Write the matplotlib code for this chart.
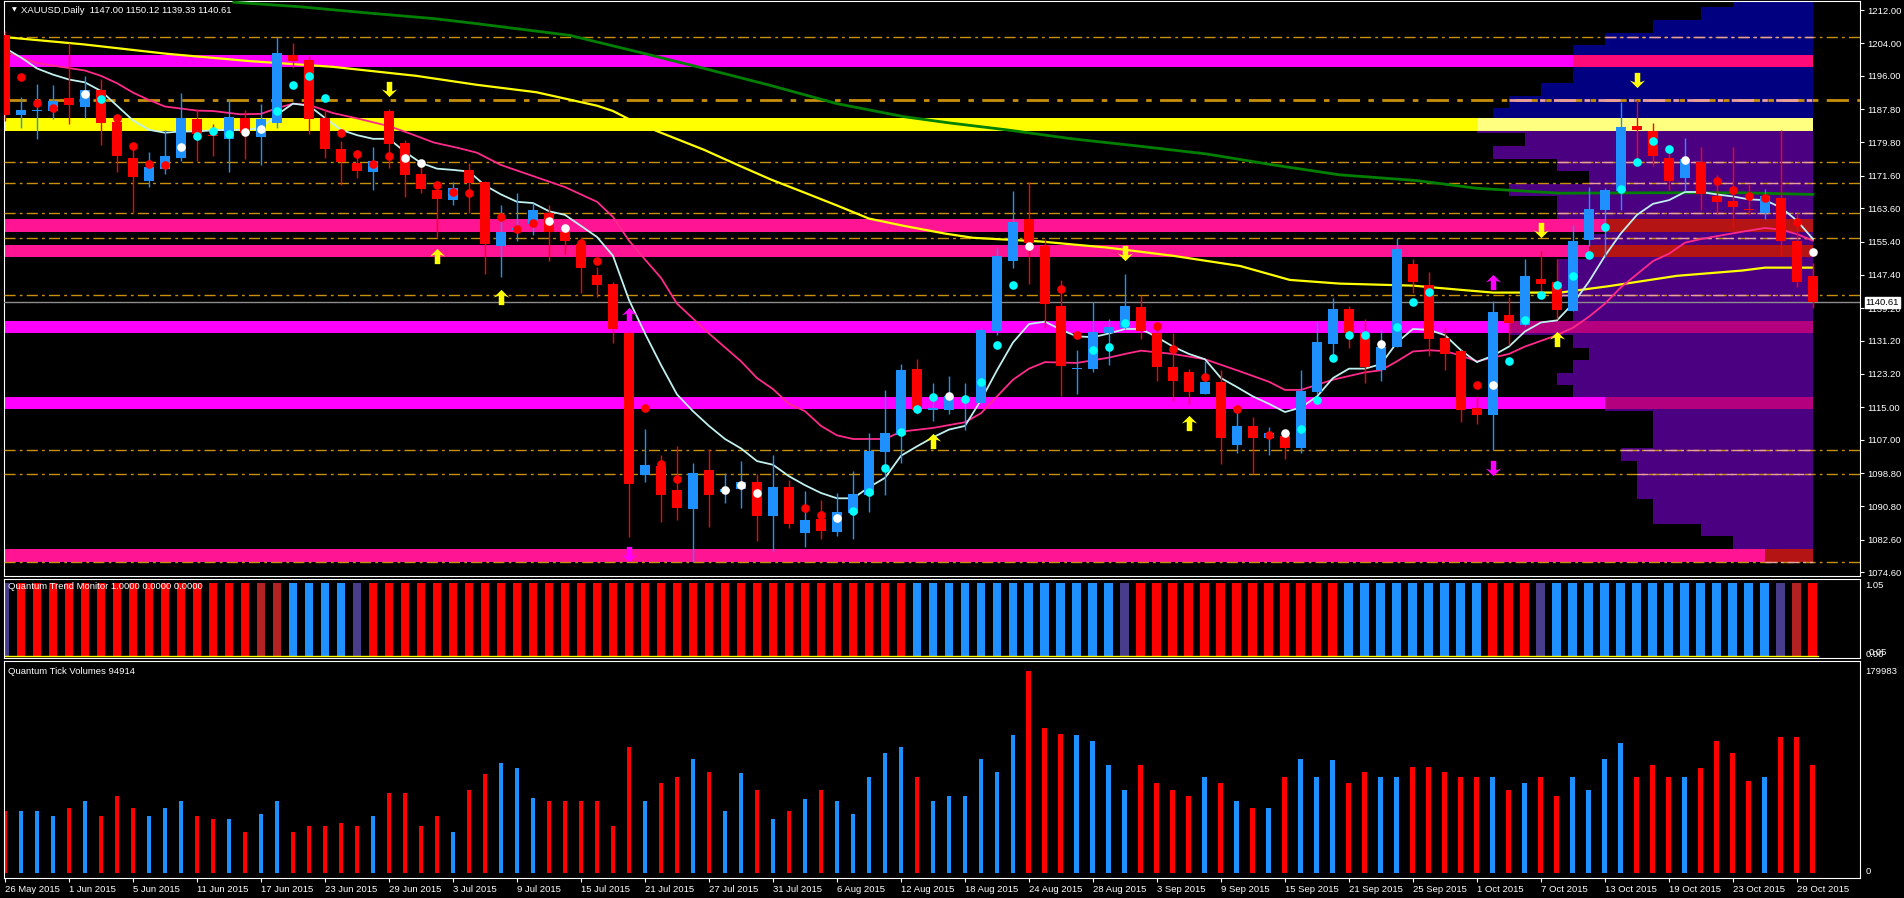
import numpy as np
import matplotlib.pyplot as plt
from matplotlib.path import Path
from matplotlib.transforms import blended_transform_factory

plt.rcParams['font.family'] = ['Liberation Sans', 'DejaVu Sans']

# ---- candles (26 May 2015 .. 30 Oct 2015, daily) ----
opens = [1206.0, 1186.5, 1187.3, 1187.5, 1190.5, 1188.5, 1192.6, 1184.6, 1176.0, 1170.4,
         1173.1, 1176.0, 1185.4, 1181.5, 1180.6, 1185.6, 1181.0, 1184.5, 1201.0, 1199.9,
         1185.6, 1178.0, 1174.7, 1172.4, 1187.4, 1179.7, 1172.1, 1168.2, 1165.6, 1173.0,
         1170.0, 1154.3, 1158.4, 1159.7, 1162.5, 1157.7, 1154.8, 1147.3, 1145.2, 1133.2,
         1098.3, 1100.6, 1094.8, 1090.0, 1099.5, 1094.2, 1095.0, 1096.8, 1088.4, 1095.4,
         1084.1, 1087.7, 1084.4, 1089.1, 1093.6, 1104.0, 1108.1, 1124.4, 1114.3, 1114.3,
         1116.8, 1116.0, 1133.5, 1150.7, 1160.9, 1154.3, 1139.8, 1124.3, 1124.4, 1133.0,
         1134.4, 1139.5, 1133.2, 1124.7, 1123.5, 1118.3, 1121.2, 1105.8, 1110.4, 1107.4,
         1107.9, 1104.9, 1118.8, 1130.5, 1139.1, 1133.2, 1124.0, 1129.6, 1150.0, 1144.8,
         1131.8, 1128.7, 1114.9, 1113.1, 1137.4, 1135.1, 1146.4, 1145.5, 1138.5, 1155.8,
         1163.2, 1167.9, 1183.7, 1182.4, 1176.0, 1171.1, 1174.9, 1166.5, 1165.4, 1163.5,
         1162.5, 1166.1, 1155.7, 1147.00]
highs = [1207.0, 1190.8, 1193.9, 1193.7, 1204.1, 1196.0, 1195.2, 1186.5, 1179.7, 1177.4,
         1182.7, 1191.9, 1187.8, 1184.2, 1190.3, 1187.6, 1189.2, 1205.5, 1204.1, 1200.8,
         1187.8, 1180.1, 1177.9, 1178.5, 1187.8, 1180.3, 1174.7, 1170.2, 1170.0, 1174.7,
         1170.2, 1164.5, 1167.4, 1164.9, 1164.5, 1159.7, 1156.6, 1149.3, 1145.5, 1133.5,
         1109.6, 1103.3, 1105.4, 1101.3, 1104.7, 1098.8, 1101.8, 1098.6, 1103.3, 1097.2,
         1094.5, 1092.3, 1094.1, 1099.3, 1108.7, 1119.2, 1125.5, 1126.7, 1120.9, 1122.6,
         1120.9, 1134.3, 1153.8, 1167.9, 1170.0, 1156.1, 1146.1, 1128.9, 1140.7, 1136.5,
         1147.6, 1142.3, 1134.8, 1133.0, 1124.4, 1126.2, 1124.0, 1114.9, 1112.6, 1110.1,
         1109.5, 1124.0, 1135.9, 1141.6, 1139.8, 1136.6, 1133.9, 1156.4, 1151.1, 1148.0,
         1134.4, 1128.9, 1117.8, 1141.0, 1141.8, 1151.1, 1153.2, 1151.1, 1159.5, 1168.8,
         1168.5, 1189.6, 1190.1, 1184.4, 1178.3, 1180.8, 1178.5, 1171.8, 1178.7, 1169.5,
         1168.3, 1182.7, 1162.5, 1150.12]
lows = [1185.0, 1183.2, 1180.6, 1185.4, 1184.2, 1185.6, 1179.2, 1172.4, 1162.5, 1168.8,
        1172.1, 1175.1, 1175.1, 1176.5, 1172.4, 1175.6, 1174.2, 1183.3, 1198.0, 1181.9,
        1175.8, 1169.2, 1171.1, 1168.2, 1173.5, 1166.3, 1167.3, 1156.4, 1164.4, 1162.5,
        1147.5, 1146.8, 1155.7, 1157.0, 1150.7, 1152.5, 1142.8, 1141.9, 1130.7, 1083.2,
        1096.8, 1086.8, 1087.3, 1077.1, 1085.8, 1091.5, 1090.3, 1082.3, 1079.8, 1085.5,
        1080.8, 1082.7, 1083.5, 1082.7, 1089.3, 1093.6, 1101.3, 1113.3, 1111.5, 1113.3,
        1109.5, 1115.8, 1132.6, 1148.9, 1145.2, 1134.4, 1117.6, 1118.1, 1123.5, 1125.3,
        1134.1, 1131.7, 1121.5, 1116.4, 1115.8, 1118.3, 1101.0, 1103.8, 1098.6, 1103.3,
        1102.2, 1103.8, 1118.1, 1127.6, 1129.4, 1121.0, 1121.5, 1129.6, 1143.0, 1127.6,
        1124.1, 1111.3, 1110.8, 1104.5, 1130.3, 1134.8, 1143.0, 1136.6, 1138.5, 1154.3,
        1151.6, 1163.1, 1175.0, 1174.0, 1168.2, 1167.9, 1163.2, 1162.3, 1158.6, 1162.0,
        1160.9, 1151.9, 1144.3, 1139.33]
closes = [1186.5, 1187.6, 1187.5, 1189.8, 1188.9, 1192.5, 1184.5, 1176.5, 1171.2, 1173.8,
          1176.5, 1185.6, 1181.9, 1181.2, 1186.0, 1182.1, 1185.4, 1201.6, 1199.6, 1185.4,
          1178.1, 1175.0, 1172.7, 1175.1, 1179.4, 1171.8, 1168.3, 1165.9, 1168.5, 1169.9,
          1154.8, 1157.7, 1158.8, 1163.1, 1157.7, 1155.5, 1148.9, 1144.8, 1134.1, 1096.3,
          1100.9, 1093.6, 1090.3, 1098.8, 1093.6, 1095.0, 1096.8, 1088.4, 1095.4, 1086.4,
          1087.5, 1084.8, 1089.3, 1093.8, 1104.2, 1108.7, 1124.1, 1114.4, 1114.9, 1117.6,
          1117.0, 1133.9, 1151.9, 1160.2, 1155.2, 1140.3, 1125.0, 1124.5, 1133.3, 1134.6,
          1139.8, 1133.5, 1124.7, 1121.5, 1118.8, 1121.2, 1107.4, 1110.4, 1107.4, 1108.7,
          1104.9, 1119.0, 1131.0, 1139.1, 1133.0, 1124.9, 1129.8, 1153.7, 1145.7, 1131.7,
          1128.0, 1114.4, 1113.1, 1138.2, 1135.5, 1147.1, 1145.0, 1138.7, 1155.7, 1163.4,
          1168.2, 1183.6, 1182.8, 1176.5, 1170.4, 1175.6, 1167.0, 1165.2, 1164.0, 1163.1,
          1166.5, 1155.5, 1145.7, 1140.61]

# signal dots (nan = none): r red, c cyan, w white
dot_price = [np.nan, 1195.8, 1189.4, 1188.2, np.nan, 1191.6, 1190.4, 1185.7, 1178.8, 1174.4,
             1174.2, 1178.6, 1181.3, 1182.6, 1181.9, 1182.2, 1183.1, 1187.5, 1193.7, 1196.0,
             1190.5, 1182.1, 1176.9, 1174.4, 1176.4, 1175.9, 1174.7, 1169.4, 1167.6, 1167.3,
             np.nan, 1161.5, 1158.6, 1160.1, 1160.5, 1158.8, 1155.2, 1150.7, np.nan, np.nan,
             1114.9, 1101.0, 1097.5, 1094.0, np.nan, 1094.8, 1096.0, 1094.0, 1093.4, np.nan,
             1090.4, 1088.6, 1088.0, 1089.5, 1094.2, 1100.2, 1108.8, 1114.6, 1117.4, 1117.8,
             1116.9, 1121.1, 1130.3, 1144.8, 1154.3, 1153.7, 1143.9, 1132.7, 1128.9, 1129.8,
             1135.5, 1136.5, 1134.8, 1129.1, 1124.0, 1122.3, np.nan, 1114.6, np.nan, 1108.1,
             1108.6, 1109.7, 1116.7, 1126.9, 1132.7, 1132.7, 1130.5, 1134.6, 1140.7, 1143.2,
             1137.3, np.nan, 1120.5, 1120.3, 1126.2, 1136.2, 1142.5, 1144.8, 1147.1, 1152.2,
             1159.1, 1168.3, 1175.0, 1180.1, 1178.0, 1175.4, np.nan, 1170.4, 1168.1, 1166.5,
             1166.1, np.nan, 1160.2, 1152.9]
dot_kind = ('-rrr-wcrrrrwcccwwcccc' 'rrrrwwrrr' '-rrrwwrr--' 'rrr-rwww-' 'rrrwcccccc'
            'wccccwrrrccc' 'rrr-r-rr' 'rwcccccwc' 'cc-rrwcccccc' 'cccccw-rrrr-rw')

# moving averages
fast_ma = [1202.8, 1200.5, 1197.8, 1196.3, 1195.1, 1194.4, 1192.3, 1188.7, 1185.1, 1182.8,
           1182.1, 1182.4, 1182.4, 1182.7, 1182.8, 1182.8, 1183.3, 1186.5, 1189.2, 1188.7,
           1185.7, 1182.8, 1181.5, 1180.6, 1180.6, 1177.4, 1174.7, 1173.3, 1173.0, 1172.6,
           1169.2, 1167.0, 1165.2, 1164.9, 1162.9, 1162.0, 1159.3, 1156.6, 1152.0, 1141.2,
           1133.0, 1125.3, 1118.1, 1114.0, 1110.4, 1107.2, 1104.9, 1101.8, 1100.9, 1098.1,
           1095.9, 1094.0, 1092.7, 1092.7, 1095.4, 1097.7, 1103.1, 1105.4, 1107.6, 1109.5,
           1110.4, 1116.7, 1124.0, 1130.8, 1135.3, 1135.9, 1133.9, 1132.3, 1132.1, 1133.0,
           1134.1, 1134.1, 1132.1, 1129.8, 1128.0, 1126.7, 1122.1, 1119.9, 1117.6, 1115.8,
           1113.8, 1114.9, 1117.6, 1122.1, 1124.4, 1124.4, 1125.5, 1130.8, 1134.1, 1133.9,
           1132.6, 1128.9, 1126.0, 1127.6, 1129.8, 1133.5, 1135.7, 1136.2, 1140.3, 1145.7,
           1152.0, 1157.5, 1162.0, 1164.7, 1165.6, 1167.6, 1167.6, 1167.0, 1166.5, 1165.8,
           1165.6, 1163.8, 1160.6, 1156.1]
pink_x = [0, 2, 5, 6, 7, 8, 9, 10, 12, 13, 14.7, 16, 17, 18, 19, 20.5, 22, 24, 25.3, 26.8,
          28.4, 29.5, 31, 33, 35, 37, 38, 39, 40, 41, 42, 44, 46, 47, 48, 49, 50, 51, 52, 53,
          55, 56, 58, 60, 61, 62, 63, 64, 65, 67, 69, 70, 71, 73, 75, 77, 79, 80, 81, 83,
          85, 86, 87, 88, 89, 90, 91, 92, 93, 94, 95, 97, 98, 99, 100, 101, 102, 103, 104,
          105, 106, 108, 110, 111, 112, 113]
pink_y = [1201.9, 1199.1, 1197.3, 1196.0, 1194.2, 1191.9, 1190.1, 1188.5, 1187.5, 1187.4,
          1186.6, 1186.7, 1188.1, 1189.2, 1188.9, 1186.9, 1185.6, 1183.7, 1181.9, 1179.7,
          1178.3, 1177.2, 1174.2, 1171.5, 1168.8, 1165.2, 1161.5, 1155.7, 1151.1, 1146.6,
          1140.3, 1133.0, 1126.2, 1122.1, 1119.4, 1115.8, 1114.0, 1110.4, 1108.1, 1107.2,
          1107.2, 1109.0, 1109.9, 1111.3, 1113.5, 1117.6, 1121.7, 1124.4, 1126.0, 1125.8,
          1127.1, 1128.0, 1128.8, 1128.0, 1126.7, 1124.0, 1121.2, 1119.2, 1119.2, 1121.7,
          1123.5, 1124.0, 1126.2, 1128.6, 1128.9, 1128.7, 1127.6, 1126.2, 1127.1, 1128.0,
          1129.8, 1132.6, 1134.4, 1137.1, 1140.3, 1144.3, 1147.5, 1150.7, 1152.5, 1155.2,
          1156.1, 1157.5, 1158.8, 1158.4, 1157.3, 1155.7]
yellow_x = [-0.1, 4.9, 10.1, 15.3, 20.5, 25.7, 29.5, 33.2, 37, 38, 38.9, 40.8, 43.7, 45.8,
            47.9, 50, 52, 54, 56.2, 58.8, 60.5, 64.7, 68.9, 73, 77.2, 80.3, 83.4, 88, 90.9,
            93, 97.2, 100.3, 104.5, 108.6, 110, 113]
yellow_y = [1205.5, 1203.7, 1201.4, 1199.6, 1198.2, 1196.0, 1193.8, 1192.0, 1188.7, 1187.4,
            1185.6, 1182.4, 1177.9, 1174.2, 1170.6, 1167.4, 1164.3, 1161.1, 1159.3, 1157.4,
            1156.4, 1155.5, 1154.0, 1152.0, 1149.5, 1146.1, 1145.2, 1144.7, 1143.7, 1143.0,
            1143.0, 1144.6, 1147.1, 1148.4, 1149.1, 1149.1]
green_x = [14.3, 18.4, 22.6, 26.8, 29.4, 35.3, 39.5, 43.7, 47.8, 52, 56.2, 59, 62.6, 66.7,
           70.9, 75.1, 79.3, 83.4, 88.2, 92, 97.2, 102.4, 108.6, 113]
green_y = [1214.0, 1212.9, 1211.4, 1210.0, 1208.8, 1205.9, 1201.9, 1197.8, 1193.7, 1189.2,
           1186.0, 1184.5, 1182.8, 1180.6, 1178.8, 1176.9, 1174.2, 1171.8, 1170.4, 1168.5,
           1167.3, 1167.4, 1167.4, 1167.0]

# arrows (bar, price)
up_yellow = [(27, 1152.0), (31, 1142.0), (58, 1106.7), (74, 1111.0), (97, 1131.7)]
dn_yellow = [(24, 1192.8), (70, 1152.7), (96, 1158.4), (102, 1195.1)]
up_magenta = [(39, 1137.5), (93, 1145.7)]
dn_magenta = [(39, 1079.1), (93, 1100.2)]

# support / resistance zones
band_lo = [1198.2, 1182.6, 1157.8, 1151.7, 1133.2, 1114.5, 1077.2]
band_hi = [1201.0, 1185.6, 1160.9, 1154.6, 1136.1, 1117.4, 1080.3]
band_col = ['#FF00FF', '#FFFF00', '#FF1493', '#FF1493', '#FF00FF', '#FF00FF', '#FF1493']
band_in = ['#FF0A78', '#FFFF80', '#B41414', '#B41414', '#B4007F', '#B4007F', '#B41414']
levels = [1205.5, 1190.1, 1175.0, 1169.9, 1162.5, 1156.4, 1142.4, 1104.5, 1098.6, 1077.1]

# volume profile: bins from 1077.2 up, 3.08 each, length in bars
prof_base, prof_step = 1077.2, 3.08
prof_len = [3, 5, 7, 10, 10, 11, 11, 11, 12, 10, 10, 10, 13, 15, 16, 15, 14, 15, 19, 15,
            15, 16, 16, 16, 14, 14, 13, 16, 16, 19, 14, 16, 20, 18, 21, 20, 19, 17, 15, 15,
            15, 13, 10, 7, 5]

# trend monitor colours (run lengths)
trend_runs = [('P', 1), ('R', 15), ('X', 2), ('B', 4), ('P', 1), ('R', 34), ('B', 13),
              ('P', 1), ('R', 13), ('B', 9), ('R', 3), ('P', 1), ('B', 14), ('P', 1),
              ('X', 1), ('R', 1)]

volumes = [54, 54, 54, 50, 57, 63, 50, 68, 57, 50, 57, 63, 50, 47, 47, 36, 52, 63, 36, 41,
           41, 44, 41, 50, 70, 70, 41, 50, 36, 73, 87, 97, 92, 66, 63, 63, 63, 63, 41, 111,
           63, 79, 84, 100, 89, 54, 88, 73, 47, 54, 65, 73, 63, 52, 84, 105, 111, 84, 63, 68,
           68, 100, 89, 121, 177, 127, 122, 121, 116, 95, 73, 95, 79, 73, 68, 84, 79, 63, 57, 57,
           84, 100, 84, 99, 79, 89, 84, 84, 93, 93, 89, 84, 84, 84, 73, 79, 84, 68, 84, 73,
           100, 114, 84, 95, 84, 84, 92, 116, 105, 81, 84, 119, 119, 95]
volumes = [v * 1000 for v in volumes]

date_labels = ['26 May 2015', '1 Jun 2015', '5 Jun 2015', '11 Jun 2015', '17 Jun 2015',
               '23 Jun 2015', '29 Jun 2015', '3 Jul 2015', '9 Jul 2015', '15 Jul 2015',
               '21 Jul 2015', '27 Jul 2015', '31 Jul 2015', '6 Aug 2015', '12 Aug 2015',
               '18 Aug 2015', '24 Aug 2015', '28 Aug 2015', '3 Sep 2015', '9 Sep 2015',
               '15 Sep 2015', '21 Sep 2015', '25 Sep 2015', '1 Oct 2015', '7 Oct 2015',
               '13 Oct 2015', '19 Oct 2015', '23 Oct 2015', '29 Oct 2015']
price_ticks = [1212.00, 1204.00, 1196.00, 1187.80, 1179.80, 1171.60, 1163.60, 1155.40,
               1147.40, 1139.20, 1131.20, 1123.20, 1115.00, 1107.00, 1098.80, 1090.80,
               1082.60, 1074.60]

RED, BLUE = '#FF0000', '#1E90FF'
W, H = 1904, 898
fig = plt.figure(figsize=(W / 100, H / 100), dpi=100, facecolor='black')


def px_axes(x0, y0, x1, y1):
    ax = fig.add_axes([x0 / W, 1 - y1 / H, (x1 - x0) / W, (y1 - y0) / H])
    ax.set_facecolor('black')
    for s in ax.spines.values():
        s.set_color('white')
    return ax


# chunky arrow marker like the terminal's wingdings arrows
UP = Path([(0, 0.5), (0.5, 0.0), (0.18, 0.12), (0.18, -0.5), (-0.18, -0.5),
           (-0.18, 0.12), (-0.5, 0.0), (0, 0.5)], closed=True)
DOWN = Path([(x, -y) for x, y in UP.vertices], closed=True)

XL = (-0.094, 115.94)
ax = px_axes(3.5, 1, 1860, 576)
ax_i = px_axes(3.5, 579, 1860, 658)
ax_v = px_axes(3.5, 661, 1860, 878)
for a in (ax, ax_i, ax_v):
    a.set_xlim(*XL)

o, h, l, c = map(np.array, (opens, highs, lows, closes))
idx = np.arange(len(c))
ccol = np.where(c >= o, BLUE, RED)
last = idx[-1]

# volume profile
for k, ln in enumerate(prof_len):
    lo = prof_base + k * prof_step
    fc = '#000080' if k >= 35 else '#4B0082'
    ax.barh(lo, ln, left=last - ln, height=prof_step, align='edge', color=fc, lw=0, zorder=1)

# zones
for lo, hi, col, cin in zip(band_lo, band_hi, band_col, band_in):
    k = int(((lo + hi) / 2 - prof_base) / prof_step)
    edge = last - prof_len[k]
    ax.barh(lo, edge - XL[0], left=XL[0], height=hi - lo, align='edge', color=col, lw=0, zorder=2)
    ax.barh(lo, last - edge, left=edge, height=hi - lo, align='edge', color=cin, lw=0, zorder=2)

for p in levels:
    lw = 2 if p == 1190.1 else 1
    ax.axhline(p, color='#C8900A', lw=lw, ls=(0, (8, 3, 2, 3)), zorder=3)
    k = min(max(int((p - prof_base) / prof_step), 0), len(prof_len) - 1)
    ax.plot([last - prof_len[k], last], [p, p], color='#E8A0A0', lw=lw, ls=(0, (8, 3, 2, 3)), zorder=3)

ax.axhline(closes[-1], color='#8C8C8C', lw=1, zorder=3)

# moving averages
ax.plot(green_x, green_y, color='#008000', lw=2, zorder=4)
ax.plot(yellow_x, yellow_y, color='#FFFF00', lw=1.6, zorder=4)
ax.plot(pink_x, pink_y, color='#FF2A8A', lw=1.3, zorder=4)
ax.plot(idx, fast_ma, color='#C0F0F0', lw=1.3, zorder=4)

# candles
ax.vlines(idx, l, h, colors=ccol, lw=1, zorder=5)
body = np.maximum(np.abs(c - o), 0.3)
ax.bar(idx, body, bottom=np.minimum(o, c), width=0.66, color=ccol, lw=0, zorder=5)

# dots
dcol = {'r': RED, 'c': '#00FFFF', 'w': '#FFFFFF'}
for i, (p, kd) in enumerate(zip(dot_price, dot_kind)):
    if kd in dcol and not np.isnan(p):
        ax.plot(i, p, 'o', ms=6.2, color=dcol[kd], mec='none', zorder=6)

# arrows
for pts, mk, col in ((up_yellow, UP, '#FFFF00'), (dn_yellow, DOWN, '#FFFF00'),
                     (up_magenta, UP, '#FF00FF'), (dn_magenta, DOWN, '#FF00FF')):
    ax.plot([b for b, _ in pts], [p for _, p in pts], ls='none', marker=mk, ms=11,
            color=col, mec='none', zorder=7)

ax.set_ylim(1073.7, 1214.3)
ax.set_xticks([])
ax.yaxis.tick_right()
ax.set_yticks(price_ticks)
ax.set_yticklabels(['%.2f' % p for p in price_ticks])
ax.tick_params(axis='y', colors='white', labelsize=6.8, length=3, pad=2)
tr = blended_transform_factory(ax.transAxes, ax.transData)
ax.text(1.003, closes[-1], '%.2f' % closes[-1], transform=tr, color='black', fontsize=6.8,
        va='center', ha='left', bbox=dict(fc='white', ec='white', pad=0.6), zorder=8)
ax.text(0.0045, 0.984, '\u25BC', transform=ax.transAxes, color='white', fontsize=4.5,
        va='center', family='DejaVu Sans')
ax.text(0.0095, 0.984, 'XAUUSD,Daily  %.2f %.2f %.2f %.2f' % (opens[-1], highs[-1], lows[-1], closes[-1]),
        transform=ax.transAxes, color='white', fontsize=6.8, va='center')

# trend monitor
tcol = {'P': '#483D8B', 'R': '#FF0000', 'X': '#B22222', 'B': '#1E90FF'}
tcolors = [tcol[k] for k, n in trend_runs for _ in range(n)]
ax_i.bar(idx, np.ones(len(idx)), width=0.56, color=tcolors, lw=0)
ax_i.plot([XL[0], last + 0.3], [0, 0], color='#FFFF00', lw=1)
ax_i.set_ylim(-0.03, 1.05)
ax_i.set_xticks([])
ax_i.set_yticks([])
ax_i.text(0.0025, 0.9, 'Quantum Trend Monitor 1.0000 0.0000 0.0000', transform=ax_i.transAxes,
          color='white', fontsize=6.8, va='center')
ax_i.text(1.003, 0.92, '1.05', transform=ax_i.transAxes, color='white', fontsize=6.8, va='center')
ax_i.text(1.003, 0.05, '0.00', transform=ax_i.transAxes, color='white', fontsize=6.8, va='center')
ax_i.text(1.0045, 0.07, '0.05', transform=ax_i.transAxes, color='white', fontsize=6.8, va='center')

# tick volumes
ax_v.bar(idx, volumes, width=0.31, color=ccol, lw=0)
ax_v.set_ylim(-4390, 186130)
ax_v.set_yticks([])
ax_v.text(1.003, 0.95, '179983', transform=ax_v.transAxes, color='white', fontsize=6.8, va='center')
ax_v.text(1.003, 0.03, '0', transform=ax_v.transAxes, color='white', fontsize=6.8, va='center')
ax_v.text(0.0025, 0.95, 'Quantum Tick Volumes 94914', transform=ax_v.transAxes,
          color='white', fontsize=6.8, va='center')
ax_v.set_xticks(list(range(0, len(idx), 4)))
ax_v.set_xticklabels(date_labels, ha='left')
ax_v.tick_params(axis='x', colors='white', labelsize=6.8, length=3, pad=2)

fig.savefig('out.png', dpi=100, facecolor='black')
